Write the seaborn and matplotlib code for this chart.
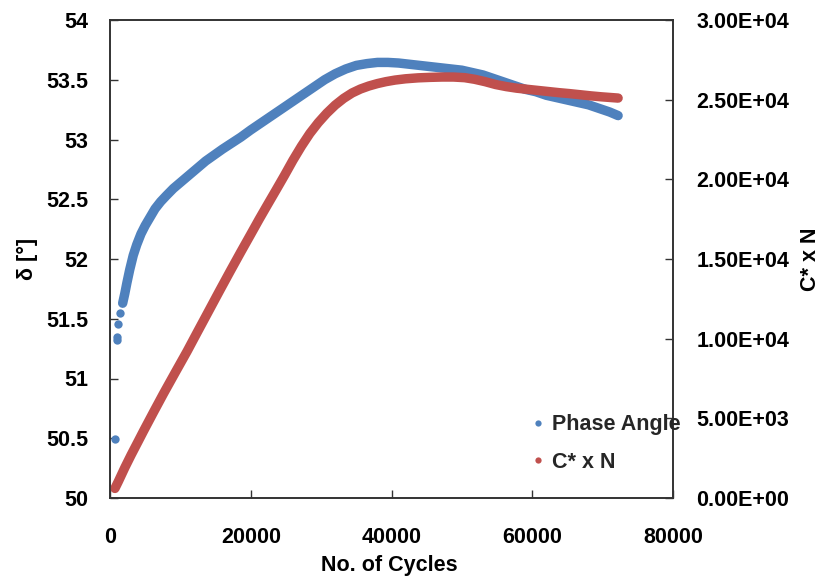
import matplotlib
matplotlib.use("Agg")
import matplotlib.pyplot as plt
import seaborn as sns
from matplotlib.lines import Line2D
from matplotlib.ticker import FixedLocator, FuncFormatter

# ---- data ----
phase_sparse_cycles = [700, 950, 1050, 1190, 1430]
phase_sparse_angle = [50.49, 51.32, 51.35, 51.46, 51.55]

phase_cycles = [1800, 2100, 2400, 2800, 3300, 3800, 4400, 5000, 5700, 6400,
                7200, 8000, 9000, 10000, 11200, 12400, 13600, 14800, 16000, 17300,
                18600, 20000, 21500, 23000, 24500, 26000, 27500, 29000, 30500, 32000,
                33500, 35000, 36500, 38000, 39500, 41000, 42500, 44000, 45500, 47000,
                48500, 50000, 51500, 53000, 54500, 56000, 57500, 59000, 60500, 62000,
                63500, 65000, 66500, 68000, 69500, 71000, 72200]
phase_angle = [51.63, 51.71, 51.80, 51.91, 52.03, 52.12, 52.21, 52.28, 52.35, 52.42,
               52.48, 52.53, 52.59, 52.64, 52.70, 52.76, 52.82, 52.87, 52.92, 52.97,
               53.02, 53.08, 53.14, 53.20, 53.26, 53.32, 53.38, 53.44, 53.50, 53.55,
               53.59, 53.62, 53.635, 53.645, 53.645, 53.64, 53.63, 53.62, 53.61, 53.60,
               53.59, 53.58, 53.56, 53.54, 53.51, 53.48, 53.45, 53.42, 53.40, 53.37,
               53.35, 53.33, 53.31, 53.29, 53.26, 53.23, 53.20]

cn_cycles = [700, 1200, 2100, 3000, 4000, 4760, 6200, 7600, 9300, 10950,
             12400, 13800, 15500, 17100, 18600, 20000, 21200, 22400, 23600, 24800,
             26000, 27200, 28400, 29600, 30800, 32000, 33200, 34400, 35600, 36800,
             38000, 39200, 40500, 42000, 43800, 45500, 47200, 48800, 50400, 51800,
             53300, 54800, 56300, 57800, 59300, 60800, 62300, 63800, 65300, 66800,
             68300, 69800, 71000, 72200]
cn_values = [600, 1050, 1900, 2700, 3550, 4200, 5400, 6550, 7900, 9200,
             10400, 11550, 12950, 14250, 15450, 16550, 17500, 18420, 19330, 20250,
             21200, 22080, 22880, 23560, 24150, 24660, 25080, 25420, 25670, 25860,
             26010, 26130, 26230, 26310, 26370, 26400, 26420, 26420, 26380, 26280,
             26130, 25950, 25820, 25720, 25650, 25580, 25510, 25440, 25380, 25310,
             25240, 25180, 25140, 25100]

x_ticks = [0, 20000, 40000, 60000, 80000]
left_ticks = [50, 50.5, 51, 51.5, 52, 52.5, 53, 53.5, 54]
right_ticks = [0, 5000, 10000, 15000, 20000, 25000, 30000]
series_labels = ["Phase Angle", "C* x N"]
x_label = "No. of Cycles"
left_label = "δ [°]"
right_label = "C* x N"

BLUE = "#4F81BD"
RED = "#C0504D"
SPINE = "#333333"
FONT = ["Liberation Sans", "DejaVu Sans"]
FS = 15.5

sns.set_theme(style="white")
plt.rcParams["font.family"] = FONT
plt.rcParams["font.weight"] = "bold"

W, H = 822, 579
fig = plt.figure(figsize=(W / 100, H / 100), dpi=100)
L, R, T, B = 110, 673, 20, 498
ax = fig.add_axes([L / W, (H - B) / H, (R - L) / W, (B - T) / H])
ax2 = ax.twinx()

sns.lineplot(x=phase_cycles, y=phase_angle, ax=ax, color=BLUE, linewidth=6.8,
             solid_capstyle="round", solid_joinstyle="round", sort=False,
             errorbar=None, legend=False)
sns.scatterplot(x=phase_sparse_cycles, y=phase_sparse_angle, ax=ax, color=BLUE,
                s=36, linewidth=0, legend=False)
sns.lineplot(x=cn_cycles, y=cn_values, ax=ax2, color=RED, linewidth=6.8,
             solid_capstyle="round", solid_joinstyle="round", sort=False,
             errorbar=None, legend=False)

ax.set_xlim(0, 80000)
ax.set_ylim(50, 54)
ax2.set_ylim(0, 30000)

ax.xaxis.set_major_locator(FixedLocator(x_ticks))
ax.xaxis.set_major_formatter(FuncFormatter(lambda v, p: f"{v:.0f}"))
ax.yaxis.set_major_locator(FixedLocator(left_ticks))
ax.yaxis.set_major_formatter(FuncFormatter(lambda v, p: f"{v:g}"))
ax2.yaxis.set_major_locator(FixedLocator(right_ticks))
ax2.yaxis.set_major_formatter(FuncFormatter(lambda v, p: f"{v:.2E}"))

for a in (ax, ax2):
    for s in a.spines.values():
        s.set_visible(True)
        s.set_color(SPINE)
        s.set_linewidth(1.2)

ax.tick_params(axis="x", direction="in", length=5.8, width=1, color=SPINE,
               bottom=True, top=False, pad=21, labelsize=FS, labelcolor="black")
ax.tick_params(axis="y", direction="in", length=5.8, width=1, color=SPINE,
               left=True, right=False, pad=15.5, labelsize=FS, labelcolor="black")
ax2.tick_params(axis="y", direction="in", length=5.8, width=1, color=SPINE,
                right=True, left=False, pad=17, labelsize=FS, labelcolor="black")
for lab in ax.get_xticklabels() + ax.get_yticklabels() + ax2.get_yticklabels():
    lab.set_fontweight("bold")

ax.set_xlabel(x_label, fontsize=FS, fontweight="bold", color="black", va="center")
ax.xaxis.set_label_coords(0.497, (B - 565) / (B - T))
ax.set_ylabel(left_label, fontsize=FS, fontweight="bold", color="black", va="center")
ax.yaxis.set_label_coords((27 - L) / (R - L), 0.5)
ax2.set_ylabel(right_label, fontsize=FS, fontweight="bold", color="black",
               va="center", rotation=90)
ax2.yaxis.set_label_coords((810 - L) / (R - L), 0.5)

handles = [Line2D([], [], marker="o", linestyle="none", color=c, markersize=4.5,
                  markeredgewidth=0) for c in (BLUE, RED)]
ax2.legend(handles, series_labels, loc="center left",
           bbox_to_anchor=(531.5 / W, 1 - 443.5 / H), bbox_transform=fig.transFigure,
           frameon=False, handlelength=0.6, handletextpad=0.35, labelspacing=0.75,
           borderpad=0, borderaxespad=0,
           prop=dict(family=FONT, weight="bold", size=FS))

fig.savefig("out.png", dpi=100)
